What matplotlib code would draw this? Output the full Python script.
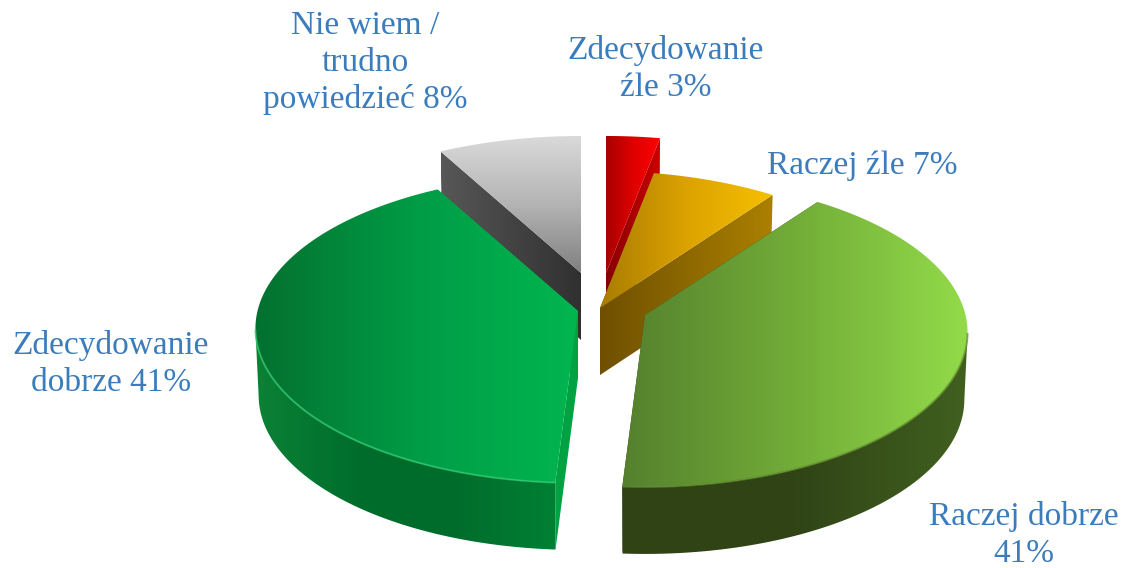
#!/usr/bin/env python
# -*- coding: utf-8 -*-
# pseudo 3D exploded pie, drawn by hand because matplotlib has no such pie
import numpy as np
import matplotlib
matplotlib.use("Agg")
import matplotlib.pyplot as plt
from matplotlib.colors import LinearSegmentedColormap
from matplotlib.patches import Polygon

# slices, clockwise from 12 o'clock
labels = ["Zdecydowanie\nźle", "Raczej źle", "Raczej dobrze\n", "Zdecydowanie\ndobrze", "Nie wiem /\ntrudno\npowiedzieć"]
shares = [3, 7, 41, 41, 8]
# slice apex in pixels
apex_x = [606, 600, 645, 578, 581]
apex_y = [273, 308, 315, 311, 273]
# label centres in pixels
label_x = [666, 862, 1024, 111, 365]
label_y = [69, 166, 535, 364, 63]
# painter's order, back to front
draw_order = [4, 3, 0, 1, 2]

top_colors = [
    ["#a80000", "#e00000", "#ff0000"],
    ["#a87c00", "#dca200", "#f6c000"],
    ["#55802e", "#72ad38", "#93db4a"],
    ["#04702f", "#009c46", "#00b64f"],
    ["#dadada", "#b4b4b4", "#808080"],
]
wall_colors = [
    ["#8a0000", "#c80000"],
    ["#33290a", "#33290a"],
    ["#2f4315", "#304416", "#41601f"],
    ["#0b8236", "#006d2d", "#006c2c", "#008034"],
    ["#555555", "#555555"],
]
cut_colors = [
    ["#860000", "#cc0000"],
    ["#6f5000", "#ab8000"],
    ["#2f4315", "#2f4315"],
    ["#00a242", "#00a242"],
    ["#575757", "#303030"],
]
rim_colors = [None, None, "#5d8a2a", "#2fcc70", None]
grad_vertical = [False, False, False, False, True]

RADIUS_X = 320.5
RADIUS_Y = 152.5
PERSPECTIVE = 0.113
DEPTH = 67.0
BOTTOM_SCALE = 0.99
TEXT_COLOR = "#3b7cbc"

plt.rcParams['font.family'] = ['Liberation Serif', 'DejaVu Serif']

fig = plt.figure(figsize=(11.22, 5.68), dpi=100)
ax = fig.add_axes([0, 0, 1, 1])


def project(theta, ox, oy, r=1.0):
    # theta in radians clockwise from the top, far side gets smaller
    x = r * np.sin(theta)
    y = r * np.cos(theta)
    w = 1 + PERSPECTIVE * y
    return ox + RADIUS_X * x / w, oy - RADIUS_Y * y / w


def fill_gradient(pts, colors, zorder, vertical=False):
    pts = np.asarray(pts)
    poly = Polygon(pts, closed=True, transform=ax.transData, facecolor="none", edgecolor="none")
    ax.add_patch(poly)
    cmap = LinearSegmentedColormap.from_list("g", colors)
    ramp = np.linspace(0, 1, 256)
    ramp = ramp.reshape(-1, 1) if vertical else ramp.reshape(1, -1)
    x0, x1 = pts[:, 0].min(), pts[:, 0].max()
    y0, y1 = pts[:, 1].min(), pts[:, 1].max()
    im = ax.imshow(ramp, cmap=cmap, extent=(x0, max(x1, x0 + 1), max(y1, y0 + 1), y0),
                   aspect="auto", zorder=zorder, interpolation="bilinear", vmin=0, vmax=1)
    im.set_clip_path(poly)


edges = np.cumsum([0] + shares) / 100.0 * 2 * np.pi
z = 1
for i in draw_order:
    ox, oy = apex_x[i], apex_y[i]
    start, end = edges[i], edges[i + 1]
    th = np.linspace(start, end, 300)
    ax_pts, ay_pts = project(th, ox, oy)
    top = [(ox, oy)] + list(zip(ax_pts, ay_pts))

    # the two cut faces
    for a in (start, end):
        rx, ry = project(a, ox, oy)
        low_x = ox + (rx - ox) * BOTTOM_SCALE
        face = [(ox, oy), (rx, ry), (low_x, ry + DEPTH), (ox, oy + DEPTH)]
        fill_gradient(face, cut_colors[i], z)
        z += 1

    # outer wall, only the part facing the viewer (silhouette is at cos = -p)
    front = th[np.cos(th) < -PERSPECTIVE]
    if len(front) > 1:
        fx, fy = project(front, ox, oy)
        low_x = ox + (fx - ox) * BOTTOM_SCALE
        wall = list(zip(fx, fy)) + list(zip(low_x[::-1], fy[::-1] + DEPTH))
        fill_gradient(wall, wall_colors[i], z)
        z += 1

    fill_gradient(top, top_colors[i], z, vertical=grad_vertical[i])
    z += 1

    # bevel highlight along the front rim
    if rim_colors[i] and len(front) > 1:
        ax.plot(fx, fy, color=rim_colors[i], lw=1.4, alpha=0.7, zorder=z, solid_capstyle="butt")
        z += 1

for lab, val, tx, ty in zip(labels, shares, label_x, label_y):
    if lab.endswith("\n"):
        text = lab + "%d%%" % val
    else:
        text = lab + " %d%%" % val
    ax.text(tx, ty, text, color=TEXT_COLOR, fontsize=24, ha="center", va="center",
            linespacing=1.27, zorder=z + 1)

ax.set_xlim(0, 1122)
ax.set_ylim(568, 0)
ax.axis("off")
fig.savefig("out.png", dpi=100)
